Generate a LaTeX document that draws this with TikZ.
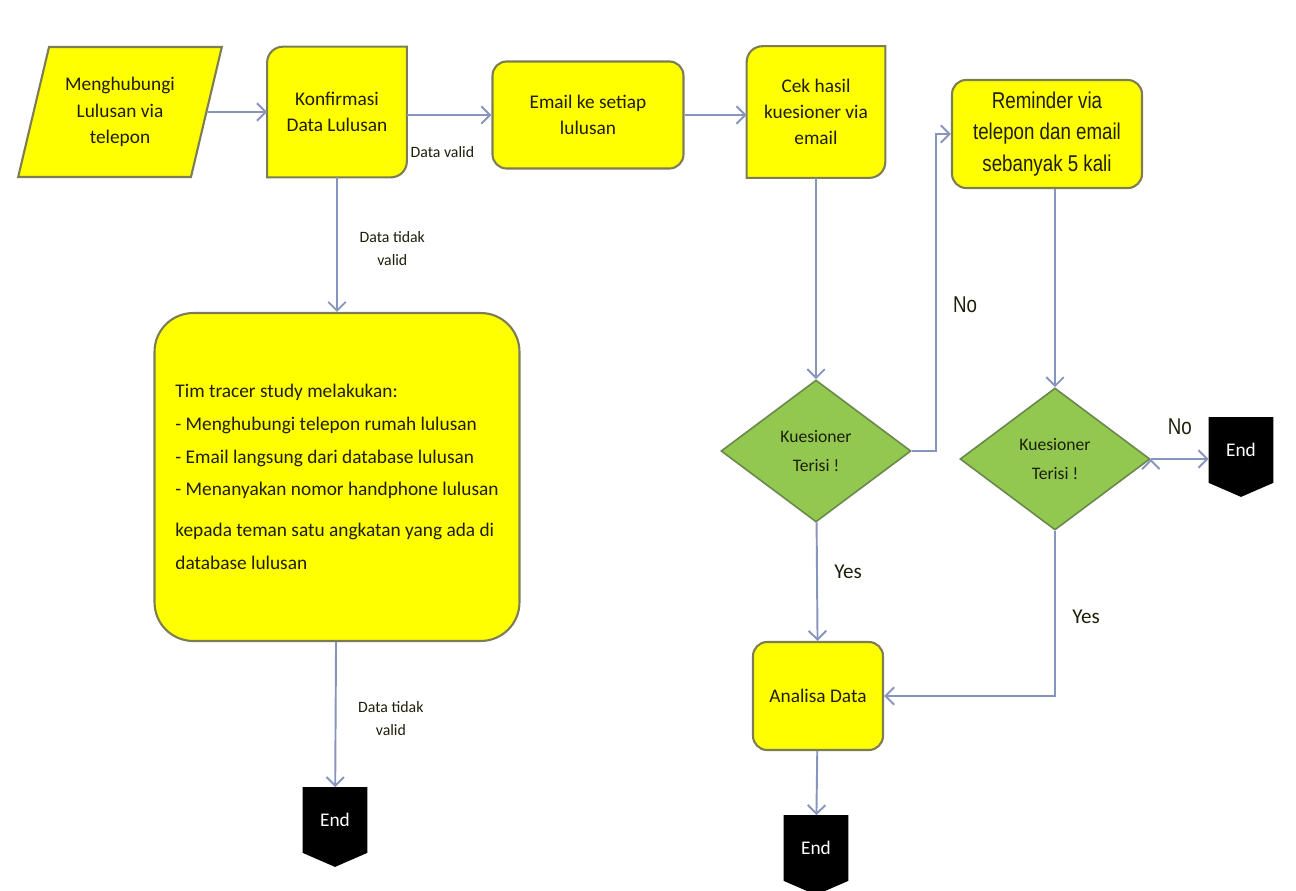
\documentclass[tikz,border=0pt]{standalone}
\usepackage{fontspec}
\setmainfont{Carlito}
\newfontfamily\narrowfont{Liberation Sans}[FakeStretch=0.82]
\usetikzlibrary{arrows.meta,shapes.geometric,backgrounds,positioning}
\definecolor{boxyellow}{RGB}{255,255,0}
\definecolor{boxline}{RGB}{125,125,85}
\definecolor{dgreen}{RGB}{146,200,80}
\definecolor{dgreenline}{RGB}{105,135,75}
\definecolor{flowblue}{RGB}{135,148,190}
\definecolor{txt}{RGB}{30,30,10}

\begin{document}
\begin{tikzpicture}[x=0.02cm,y=-0.02cm,->,>={Straight Barb[length=5pt,width=10pt]},
  proc node/.style={rectangle,rounded corners=8pt,draw=boxline,fill=boxyellow,line width=1.2pt,
    align=center,inner sep=0pt,text=txt,font=\fontsize{11}{15}\selectfont},
  diag node/.style={rectangle,align=center,inner sep=0pt,text=txt,font=\fontsize{11}{15}\selectfont},
  io node/.style={trapezium,trapezium left angle=71,trapezium right angle=109,trapezium stretches=true,
    draw=boxline,fill=boxyellow,line width=1.2pt,align=center,inner sep=0pt,text=txt,
    font=\fontsize{11}{15}\selectfont},
  decide node/.style={diamond,draw=dgreenline,fill=dgreen,line width=0.9pt,align=center,inner sep=0pt,
    minimum width=3.8cm,minimum height=2.84cm,text=txt,font=\fontsize{10}{16}\selectfont},
  stop node/.style={rectangle,minimum width=1.28cm,minimum height=1.3cm,inner sep=0pt,
    text=white,font=\fontsize{11}{13}\selectfont},
  flow/.style={draw=flowblue,line width=1.1pt},
  lbl/.style={text=txt,align=center,font=\fontsize{9}{13}\selectfont},
  ans/.style={text=txt,font=\narrowfont\fontsize{13}{15}\selectfont},
  yes/.style={text=txt,font=\fontsize{12}{14}\selectfont}]
  \useasboundingbox (0,0) rectangle (1296,890);

  % top row
  \node[io node,minimum width=4.1cm,minimum height=2.6cm] (call) at (120,112) {Menghubungi\\Lulusan via\\telepon};
  \node[diag node,minimum width=2.78cm,minimum height=2.6cm] (konf) at (337,112) {Konfirmasi\\Data Lulusan};
  \node[proc node,minimum width=3.82cm,minimum height=2.14cm] (email) at (588,115) {Email ke setiap\\lulusan};
  \node[diag node,minimum width=2.76cm,minimum height=2.62cm] (cek) at (816,112) {Cek hasil\\kuesioner via\\email};
  \node[proc node,minimum width=3.8cm,minimum height=2.16cm,font=\narrowfont\fontsize{13}{18}\selectfont]
    (remind) at (1047,134) {Reminder via\\telepon dan email\\sebanyak 5 kali};

  % left column
  \node[proc node,rounded corners=22pt,minimum width=7.3cm,minimum height=6.56cm,
    align=left,font=\fontsize{11}{18.5}\selectfont] (tim) at (337,477)
    {Tim tracer study melakukan:\\
     - Menghubungi telepon rumah lulusan\\
     - Email langsung dari database lulusan\\
     - Menanyakan nomor handphone lulusan\\[5pt]
     kepada teman satu angkatan yang ada di\\
     database lulusan};
  \node[stop node] (end1) at (335,820) {End};

  % right part
  \node[decide node] (cek1) at (816,451) {Kuesioner\\Terisi !};
  \node[decide node] (cek2) at (1055,459) {Kuesioner\\Terisi !};
  \node[proc node,minimum width=2.6cm,minimum height=2.16cm] (analisa) at (818,696) {Analisa Data};
  \node[stop node] (end2) at (816,848) {End};
  \node[stop node] (end3) at (1241,450) {End};

  % shapes drawn behind the nodes
  \begin{scope}[on background layer]
    \foreach \b in {konf,cek}
      \draw[-,draw=boxline,fill=boxyellow,line width=1.2pt]
        ([xshift=9pt]\b.north west) -- (\b.north east) -- ([yshift=9pt]\b.south east)
        arc[start angle=0,end angle=-90,radius=9pt] -- (\b.south west)
        -- ([yshift=-9pt]\b.north west) arc[start angle=180,end angle=90,radius=9pt] -- cycle;
    \foreach \e in {end1,end2,end3}
      \fill[-,black] (\e.north west) -- (\e.north east) -- (\e.south east)
        -- ([yshift=-8pt]\e.south) -- (\e.south west) -- cycle;
  \end{scope}

  \path[flow]
    (call) edge (konf)
    (konf.east |- email.west) edge node[lbl,pos=0.42,below=14pt] {Data valid} (email.west)
    (email) edge (email -| cek.west)
    (konf) edge node[lbl,pos=0.53,right=9pt] {Data tidak\\valid} (tim)
    (tim) edge node[lbl,pos=0.53,right=9pt] {Data tidak\\valid} (end1)
    (cek) edge (cek1)
    (cek1) edge node[yes,pos=0.42,right=6pt] {Yes} (analisa)
    (remind.south -| cek2) edge (cek2)
    (cek2.east) edge node[ans,above=10pt] {No} (cek2.east -| end3.west)
    (analisa) edge (end2);

  \draw[flow] (cek1.east) -- ++(24,0) |- (remind.west) node[ans,pos=0.23,right=6pt] {No};
  \draw[flow] (cek2.south) |- (analisa.east) node[yes,pos=0.26,right=6pt] {Yes};
\end{tikzpicture}
\end{document}
